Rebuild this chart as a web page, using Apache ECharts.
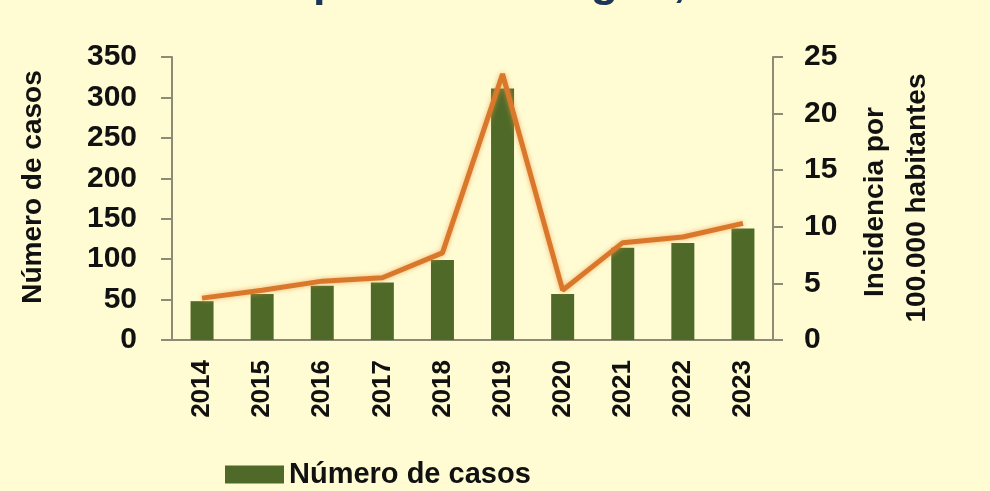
<!DOCTYPE html>
<html>
<head>
<meta charset="utf-8">
<style>
  html, body { margin: 0; padding: 0; background: #fffcd3; }
  #main { width: 990px; height: 491px; }
</style>
<script src="https://cdn.jsdelivr.net/npm/echarts@6/dist/echarts.min.js"></script>
</head>
<body>
<div id="main"></div>
<script>
// datos
var years = ['2014', '2015', '2016', '2017', '2018', '2019', '2020', '2021', '2022', '2023'];
var casos = [48, 57, 67, 71, 99, 311, 57, 114, 120, 138];
var incidencia = [3.7, 4.4, 5.2, 5.5, 7.7, 23.5, 4.4, 8.6, 9.1, 10.3];
var ticksCasos = [0, 50, 100, 150, 200, 250, 300, 350];
var ticksIncidencia = [0, 5, 10, 15, 20, 25];

var fuente = '"Liberation Sans", Arial, sans-serif';
var axisColor = '#8d8b76';

var chart = echarts.init(document.getElementById('main'));

var option = {
    backgroundColor: '#fffcd3',
    animation: false,
    grid: {
        left: 172,
        right: 217,
        top: 57,
        bottom: 151
    },
    legend: {
        data: ['Número de casos'],
        left: 220,
        top: 455,
        itemWidth: 59,
        itemHeight: 18,
        itemGap: 8,
        icon: 'rect',
        textStyle: {
            fontFamily: fuente,
            fontWeight: 'bold',
            fontSize: 29,
            color: '#111'
        }
    },
    graphic: [
        // título, cortado por arriba
        {
            type: 'text',
            x: 43,
            y: 6,
            style: {
                text: 'Casos de Hepatitis A. Aragón, 2014-2023',
                font: 'bold 45px ' + fuente,
                fill: '#1d3557',
                align: 'left',
                verticalAlign: 'bottom'
            }
        },
        // nombre eje izquierdo
        {
            type: 'text',
            x: 33,
            y: 187,
            rotation: Math.PI / 2,
            style: {
                text: 'Número de casos',
                font: 'bold 28px ' + fuente,
                fill: '#111',
                align: 'center',
                verticalAlign: 'middle'
            }
        },
        // nombre eje derecho
        {
            type: 'text',
            x: 875,
            y: 202,
            rotation: Math.PI / 2,
            style: {
                text: 'Incidencia por',
                font: 'bold 28px ' + fuente,
                fill: '#111',
                align: 'center',
                verticalAlign: 'middle'
            }
        },
        {
            type: 'text',
            x: 917,
            y: 198,
            rotation: Math.PI / 2,
            style: {
                text: '100.000 habitantes',
                font: 'bold 28px ' + fuente,
                fill: '#111',
                align: 'center',
                verticalAlign: 'middle'
            }
        }
    ],
    xAxis: {
        type: 'category',
        data: years,
        boundaryGap: true,
        axisLine: { lineStyle: { color: axisColor, width: 2 } },
        axisTick: { alignWithLabel: false, length: 9, lineStyle: { color: axisColor, width: 2 } },
        axisLabel: {
            rotate: 90,
            margin: 20,
            fontFamily: fuente,
            fontWeight: 'bold',
            fontSize: 26,
            color: '#111'
        },
        splitLine: { show: false }
    },
    yAxis: [{
            type: 'value',
            min: ticksCasos[0],
            max: ticksCasos[ticksCasos.length - 1],
            interval: 50,
            axisLine: { show: true, lineStyle: { color: axisColor, width: 2 } },
            axisTick: { show: true, length: 11, lineStyle: { color: axisColor, width: 2 } },
            axisLabel: {
                margin: 35,
                fontFamily: fuente,
                fontWeight: 'bold',
                fontSize: 30,
                color: '#111',
                align: 'right'
            },
            splitLine: { show: false }
        },
        {
            type: 'value',
            min: ticksIncidencia[0],
            max: ticksIncidencia[ticksIncidencia.length - 1],
            interval: 5,
            position: 'right',
            axisLine: { show: true, lineStyle: { color: axisColor, width: 2 } },
            axisTick: { show: true, length: 10, lineStyle: { color: axisColor, width: 2 } },
            axisLabel: {
                margin: 31,
                fontFamily: fuente,
                fontWeight: 'bold',
                fontSize: 30,
                color: '#111'
            },
            splitLine: { show: false }
        }
    ],
    series: [{
            name: 'Número de casos',
            type: 'bar',
            yAxisIndex: 0,
            barWidth: 23,
            itemStyle: { color: '#4f6a28' },
            data: casos
        },
        {
            name: 'Incidencia',
            type: 'line',
            yAxisIndex: 1,
            symbol: 'none',
            lineStyle: {
                color: '#d9782b',
                width: 5,
                shadowColor: 'rgba(235,150,70,0.7)',
                shadowBlur: 5
            },
            data: incidencia
        }
    ]
};

chart.setOption(option);
</script>
</body>
</html>
